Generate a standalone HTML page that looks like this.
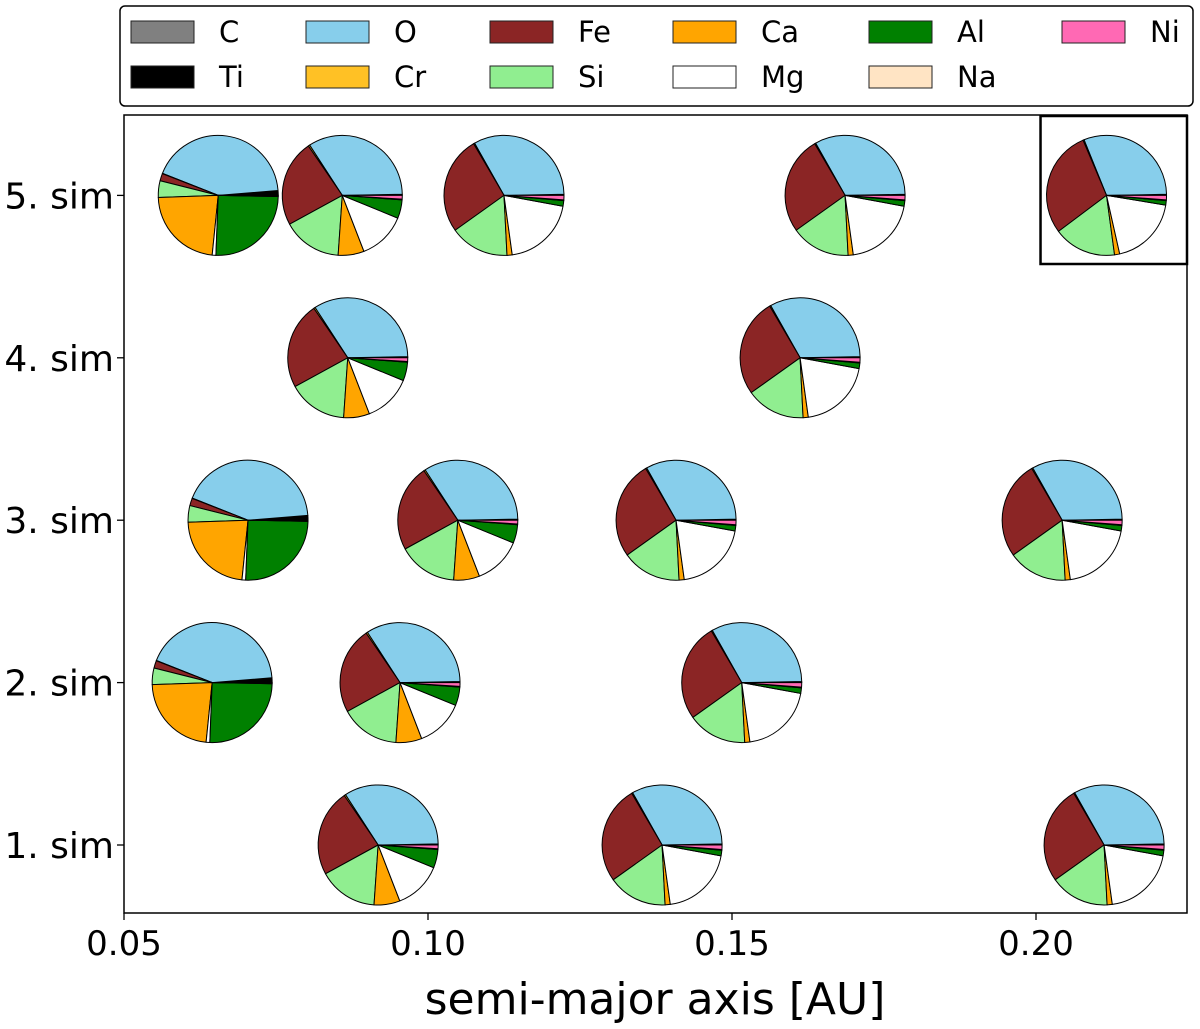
<!DOCTYPE html>
<html><head><meta charset="utf-8"><style>
html,body{margin:0;padding:0;background:#fff;width:1200px;height:1029px;overflow:hidden}
svg{display:block;font-family:"DejaVu Sans","Liberation Sans",sans-serif}
</style></head><body>
<svg id="chart" width="1200" height="1029" viewBox="0 0 1200 1029"></svg>
<script>
const elements = ["C","Ti","O","Cr","Fe","Si","Ca","Mg","Al","Na","Ni"];
const colors = ["#808080","#000000","#87CEEB","#FFC125","#8B2525","#90EE90","#FFA500","#FFFFFF","#008000","#FFE4C4","#FF69B4"];
const legendOrder = ["C","O","Fe","Ca","Al","Ni","Ti","Cr","Si","Mg","Na"];
const xTicks = [0.05,0.10,0.15,0.20];
const xTickLabels = ["0.05","0.10","0.15","0.20"];
const simLabels = ["1. sim","2. sim","3. sim","4. sim","5. sim"];
// composition per planet (fractions, order as elements)
const icy   = [0.001,0.012,0.43,0.001,0.02,0.045,0.23,0.01,0.255,0.001,0.002];
const rockA = [0.001,0.002,0.34,0.004,0.235,0.16,0.07,0.13,0.05,0.002,0.01];
const rockB = [0.001,0.002,0.33,0.003,0.265,0.16,0.014,0.2,0.015,0.002,0.012];
const rockC = [0.001,0.002,0.31,0.003,0.29,0.17,0.014,0.19,0.012,0.002,0.012];
const planetSim = [5,5,5,5,5, 4,4, 3,3,3,3, 2,2,2, 1,1,1];
const planetA   = [0.0655,0.0859,0.1125,0.1686,0.2116, 0.0868,0.1612, 0.0704,0.1049,0.1408,0.2043, 0.0645,0.0954,0.1516, 0.0918,0.1385,0.2112];
const planetComp = [icy,rockA,rockB,rockB,rockC, rockA,rockB, icy,rockA,rockB,rockB, icy,rockA,rockB, rockA,rockB,rockB];
const highlighted = 4;

const NS="http://www.w3.org/2000/svg";
const svg=document.getElementById('chart');
const L=124,R=1187,T=115,B=913;
const xMin=0.05,xMax=0.05+(R-L)/6080;
const X=v=>L+(v-xMin)/(xMax-xMin)*(R-L);
const Y=s=>845-(s-1)*162.4;
const R0=60;
function mk(tag,attrs,parent){const e=document.createElementNS(NS,tag);for(const k in attrs)e.setAttribute(k,attrs[k]);(parent||svg).appendChild(e);return e;}

// legend
const lg=mk('g',{});


mk('rect',{x:120,y:6,width:1073,height:100,rx:5,fill:'#fff',stroke:'#000','stroke-width':1.5},lg);
const colX=[131,306,490,673,869,1062];
legendOrder.forEach((el,i)=>{
  const col=i%6,row=Math.floor(i/6);
  const g=mk('g',{},lg);
  
  
  const c=colors[elements.indexOf(el)];
  mk('rect',{x:colX[col],y:21+row*45,width:63,height:22,fill:c,stroke:'#222','stroke-width':1},g);
  const t=mk('text',{x:colX[col]+88,y:42+row*45,'font-size':29,fill:'#000'},g);
  t.textContent=el;
});

// axes frame
const ax=mk('rect',{x:L,y:T,width:R-L,height:B-T,fill:'none',stroke:'#000','stroke-width':1.5});



xTicks.forEach((v,i)=>{
  mk('line',{x1:X(v),x2:X(v),y1:B,y2:B+7,stroke:'#000','stroke-width':1.3});
  const t=mk('text',{x:X(v),y:B+42,'font-size':34,'text-anchor':'middle'});
  
  
  t.textContent=xTickLabels[i];
});
simLabels.forEach((s,i)=>{
  const y=Y(i+1);
  mk('line',{x1:L-7,x2:L,y1:y,y2:y,stroke:'#000','stroke-width':1.3});
  const t=mk('text',{x:L-10,y:y+13,'font-size':36,'text-anchor':'end'});
  
  
  t.textContent=s;
});
const xl=mk('text',{x:655,y:1014,'font-size':44,'text-anchor':'middle'});


xl.textContent='semi-major axis [AU]';

// pies
planetA.forEach((a,p)=>{
  const cx=X(a),cy=Y(planetSim[p]);
  const g=mk('g',{});
  
  
  const comp=planetComp[p];const tot=comp.reduce((s,v)=>s+v,0);
  let ang=0;
  comp.forEach((v,k)=>{
    const a0=ang,a1=ang+v/tot*2*Math.PI;ang=a1;
    const x0=cx+R0*Math.cos(a0),y0=cy-R0*Math.sin(a0),x1=cx+R0*Math.cos(a1),y1=cy-R0*Math.sin(a1);
    const large=(a1-a0)>Math.PI?1:0;
    const w=mk('path',{d:`M${cx},${cy}L${x0},${y0}A${R0},${R0} 0 ${large} 0 ${x1},${y1}Z`,fill:colors[k],stroke:'#000','stroke-width':1,'stroke-linejoin':'round'},g);
    
    
  });
  if(p===highlighted){
    const h=mk('rect',{x:cx-66,y:T+1,width:R-(cx-66),height:148,fill:'none',stroke:'#000','stroke-width':2.5});
    
    
  }
});
</script>
</body></html>
